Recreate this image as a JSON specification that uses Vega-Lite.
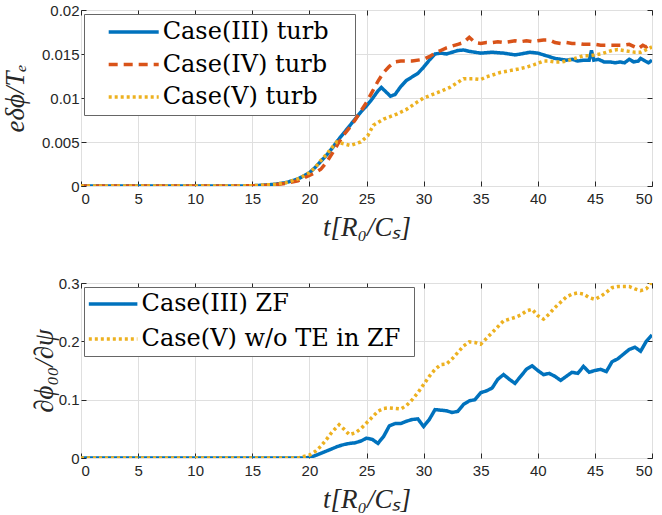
{
"$schema":"https://vega.github.io/schema/vega-lite/v6.json",
"padding":{"left":0,"top":2,"right":5,"bottom":5},
"background":"white",
"spacing":34,
"config":{
 "view":{"stroke":"#262626","strokeWidth":1},
 "axis":{"domain":false,"grid":true,"gridColor":"#DFDFDF","gridWidth":1,"tickColor":"#262626","tickSize":-5,"tickWidth":1,
  "labelFont":"Liberation Sans","labelFontSize":15,"labelColor":"#262626","labelPadding":10,
  "titleFont":"Liberation Serif","titleFontStyle":"italic","titleFontWeight":"normal","titleFontSize":27,"titleColor":"#262626"},
 "axisY":{"labelPadding":7},
 "legend":{"orient":"none","title":null,"labelFont":"DejaVu Serif","labelFontSize":24,"labelColor":"#000","labelLimit":500,"strokeColor":"#666","fillColor":"#ffffff","symbolType":"M-3,0H3"}
},
"resolve":{"scale":{"color":"independent","strokeDash":"independent","y":"independent"},"legend":{"color":"independent","strokeDash":"independent"}},
"vconcat":[
{
 "width":571,"height":176,
 "data":{"values":[
{"s":"Case(III) turb","t":0,"v":0},{"s":"Case(III) turb","t":5,"v":0},{"s":"Case(III) turb","t":10,"v":0},{"s":"Case(III) turb","t":14,"v":0.00001},{"s":"Case(III) turb","t":15,"v":0.00003},{"s":"Case(III) turb","t":16,"v":0.0001},{"s":"Case(III) turb","t":17,"v":0.0002},{"s":"Case(III) turb","t":18,"v":0.0004},{"s":"Case(III) turb","t":19,"v":0.0008},{"s":"Case(III) turb","t":20,"v":0.0015},{"s":"Case(III) turb","t":20.5,"v":0.0021},{"s":"Case(III) turb","t":21,"v":0.0028},{"s":"Case(III) turb","t":21.5,"v":0.0035},{"s":"Case(III) turb","t":22,"v":0.0043},{"s":"Case(III) turb","t":22.5,"v":0.0052},{"s":"Case(III) turb","t":23,"v":0.006},{"s":"Case(III) turb","t":23.5,"v":0.0068},{"s":"Case(III) turb","t":24,"v":0.0076},{"s":"Case(III) turb","t":24.5,"v":0.0084},{"s":"Case(III) turb","t":25,"v":0.0091},{"s":"Case(III) turb","t":25.5,"v":0.0099},{"s":"Case(III) turb","t":26,"v":0.0108},{"s":"Case(III) turb","t":26.3,"v":0.0112},{"s":"Case(III) turb","t":26.7,"v":0.0107},{"s":"Case(III) turb","t":27.1,"v":0.0102},{"s":"Case(III) turb","t":27.5,"v":0.0104},{"s":"Case(III) turb","t":28,"v":0.0113},{"s":"Case(III) turb","t":28.5,"v":0.012},{"s":"Case(III) turb","t":29,"v":0.0124},{"s":"Case(III) turb","t":29.5,"v":0.0128},{"s":"Case(III) turb","t":30,"v":0.0135},{"s":"Case(III) turb","t":30.5,"v":0.0143},{"s":"Case(III) turb","t":31,"v":0.015},{"s":"Case(III) turb","t":31.5,"v":0.0151},{"s":"Case(III) turb","t":32,"v":0.015},{"s":"Case(III) turb","t":32.5,"v":0.0152},{"s":"Case(III) turb","t":33,"v":0.0154},{"s":"Case(III) turb","t":33.5,"v":0.01545},{"s":"Case(III) turb","t":34,"v":0.0153},{"s":"Case(III) turb","t":34.5,"v":0.0152},{"s":"Case(III) turb","t":35,"v":0.0151},{"s":"Case(III) turb","t":36,"v":0.0152},{"s":"Case(III) turb","t":37,"v":0.0151},{"s":"Case(III) turb","t":38,"v":0.0149},{"s":"Case(III) turb","t":38.5,"v":0.015},{"s":"Case(III) turb","t":39.3,"v":0.0152},{"s":"Case(III) turb","t":40,"v":0.0151},{"s":"Case(III) turb","t":40.5,"v":0.0149},{"s":"Case(III) turb","t":41,"v":0.0147},{"s":"Case(III) turb","t":41.5,"v":0.0145},{"s":"Case(III) turb","t":42,"v":0.0144},{"s":"Case(III) turb","t":42.5,"v":0.0143},{"s":"Case(III) turb","t":43,"v":0.0144},{"s":"Case(III) turb","t":43.5,"v":0.0142},{"s":"Case(III) turb","t":44,"v":0.0143},{"s":"Case(III) turb","t":44.5,"v":0.0143},{"s":"Case(III) turb","t":44.7,"v":0.0154},{"s":"Case(III) turb","t":44.9,"v":0.0143},{"s":"Case(III) turb","t":45.3,"v":0.0144},{"s":"Case(III) turb","t":45.8,"v":0.0141},{"s":"Case(III) turb","t":46.3,"v":0.0141},{"s":"Case(III) turb","t":46.8,"v":0.014},{"s":"Case(III) turb","t":47.2,"v":0.0141},{"s":"Case(III) turb","t":47.6,"v":0.014},{"s":"Case(III) turb","t":48,"v":0.0144},{"s":"Case(III) turb","t":48.4,"v":0.0141},{"s":"Case(III) turb","t":48.8,"v":0.0142},{"s":"Case(III) turb","t":49,"v":0.0145},{"s":"Case(III) turb","t":49.4,"v":0.0142},{"s":"Case(III) turb","t":49.7,"v":0.014},{"s":"Case(III) turb","t":50,"v":0.0143},
{"s":"Case(IV) turb","t":0,"v":0},{"s":"Case(IV) turb","t":5,"v":0},{"s":"Case(IV) turb","t":10,"v":0},{"s":"Case(IV) turb","t":14,"v":0.00001},{"s":"Case(IV) turb","t":15,"v":0.00002},{"s":"Case(IV) turb","t":16,"v":0.00007},{"s":"Case(IV) turb","t":17,"v":0.00015},{"s":"Case(IV) turb","t":18,"v":0.0003},{"s":"Case(IV) turb","t":19,"v":0.0006},{"s":"Case(IV) turb","t":19.5,"v":0.0009},{"s":"Case(IV) turb","t":20,"v":0.0012},{"s":"Case(IV) turb","t":20.5,"v":0.0015},{"s":"Case(IV) turb","t":21,"v":0.0019},{"s":"Case(IV) turb","t":21.5,"v":0.0027},{"s":"Case(IV) turb","t":22,"v":0.0037},{"s":"Case(IV) turb","t":22.5,"v":0.0048},{"s":"Case(IV) turb","t":23,"v":0.0058},{"s":"Case(IV) turb","t":23.5,"v":0.0066},{"s":"Case(IV) turb","t":24,"v":0.0075},{"s":"Case(IV) turb","t":24.5,"v":0.0085},{"s":"Case(IV) turb","t":25,"v":0.0095},{"s":"Case(IV) turb","t":25.5,"v":0.0107},{"s":"Case(IV) turb","t":26,"v":0.0119},{"s":"Case(IV) turb","t":26.5,"v":0.0129},{"s":"Case(IV) turb","t":27,"v":0.0136},{"s":"Case(IV) turb","t":27.5,"v":0.0141},{"s":"Case(IV) turb","t":28,"v":0.0142},{"s":"Case(IV) turb","t":29,"v":0.0142},{"s":"Case(IV) turb","t":30,"v":0.0144},{"s":"Case(IV) turb","t":30.5,"v":0.0147},{"s":"Case(IV) turb","t":31,"v":0.0151},{"s":"Case(IV) turb","t":31.5,"v":0.0154},{"s":"Case(IV) turb","t":32,"v":0.0157},{"s":"Case(IV) turb","t":32.5,"v":0.0159},{"s":"Case(IV) turb","t":33,"v":0.0161},{"s":"Case(IV) turb","t":33.5,"v":0.0163},{"s":"Case(IV) turb","t":34,"v":0.0169},{"s":"Case(IV) turb","t":34.5,"v":0.0163},{"s":"Case(IV) turb","t":35,"v":0.0162},{"s":"Case(IV) turb","t":35.5,"v":0.0163},{"s":"Case(IV) turb","t":36,"v":0.0163},{"s":"Case(IV) turb","t":36.5,"v":0.0164},{"s":"Case(IV) turb","t":37,"v":0.0163},{"s":"Case(IV) turb","t":37.5,"v":0.0164},{"s":"Case(IV) turb","t":38,"v":0.0165},{"s":"Case(IV) turb","t":38.5,"v":0.0164},{"s":"Case(IV) turb","t":39,"v":0.0165},{"s":"Case(IV) turb","t":39.5,"v":0.0164},{"s":"Case(IV) turb","t":40,"v":0.0165},{"s":"Case(IV) turb","t":40.5,"v":0.0166},{"s":"Case(IV) turb","t":41,"v":0.0166},{"s":"Case(IV) turb","t":41.5,"v":0.0163},{"s":"Case(IV) turb","t":42,"v":0.0162},{"s":"Case(IV) turb","t":42.5,"v":0.0163},{"s":"Case(IV) turb","t":43,"v":0.0162},{"s":"Case(IV) turb","t":43.5,"v":0.0162},{"s":"Case(IV) turb","t":44,"v":0.0161},{"s":"Case(IV) turb","t":44.5,"v":0.0161},{"s":"Case(IV) turb","t":45,"v":0.0161},{"s":"Case(IV) turb","t":45.5,"v":0.016},{"s":"Case(IV) turb","t":46,"v":0.016},{"s":"Case(IV) turb","t":46.5,"v":0.016},{"s":"Case(IV) turb","t":47,"v":0.016},{"s":"Case(IV) turb","t":47.5,"v":0.016},{"s":"Case(IV) turb","t":48,"v":0.0161},{"s":"Case(IV) turb","t":48.5,"v":0.0158},{"s":"Case(IV) turb","t":48.8,"v":0.0156},{"s":"Case(IV) turb","t":49.2,"v":0.016},{"s":"Case(IV) turb","t":49.5,"v":0.0158},{"s":"Case(IV) turb","t":49.8,"v":0.0161},{"s":"Case(IV) turb","t":50,"v":0.0159},
{"s":"Case(V) turb","t":0,"v":0},{"s":"Case(V) turb","t":5,"v":0},{"s":"Case(V) turb","t":10,"v":0},{"s":"Case(V) turb","t":14,"v":0.00001},{"s":"Case(V) turb","t":15,"v":0.00003},{"s":"Case(V) turb","t":16,"v":0.0001},{"s":"Case(V) turb","t":17,"v":0.0002},{"s":"Case(V) turb","t":18,"v":0.0004},{"s":"Case(V) turb","t":19,"v":0.0008},{"s":"Case(V) turb","t":20,"v":0.0015},{"s":"Case(V) turb","t":20.5,"v":0.0021},{"s":"Case(V) turb","t":21,"v":0.0029},{"s":"Case(V) turb","t":21.5,"v":0.0036},{"s":"Case(V) turb","t":22,"v":0.0044},{"s":"Case(V) turb","t":22.4,"v":0.005},{"s":"Case(V) turb","t":23,"v":0.0048},{"s":"Case(V) turb","t":23.6,"v":0.0046},{"s":"Case(V) turb","t":24.5,"v":0.005},{"s":"Case(V) turb","t":25.1,"v":0.0057},{"s":"Case(V) turb","t":25.6,"v":0.0069},{"s":"Case(V) turb","t":26.5,"v":0.0076},{"s":"Case(V) turb","t":27.7,"v":0.0082},{"s":"Case(V) turb","t":28.5,"v":0.0087},{"s":"Case(V) turb","t":29.4,"v":0.0095},{"s":"Case(V) turb","t":30,"v":0.01},{"s":"Case(V) turb","t":31.2,"v":0.0106},{"s":"Case(V) turb","t":32.3,"v":0.0112},{"s":"Case(V) turb","t":33.5,"v":0.0122},{"s":"Case(V) turb","t":34.3,"v":0.0122},{"s":"Case(V) turb","t":35,"v":0.0121},{"s":"Case(V) turb","t":35.5,"v":0.0124},{"s":"Case(V) turb","t":36,"v":0.0126},{"s":"Case(V) turb","t":36.7,"v":0.0129},{"s":"Case(V) turb","t":37.5,"v":0.0131},{"s":"Case(V) turb","t":38.3,"v":0.0133},{"s":"Case(V) turb","t":39,"v":0.0135},{"s":"Case(V) turb","t":39.7,"v":0.0138},{"s":"Case(V) turb","t":40.5,"v":0.0142},{"s":"Case(V) turb","t":41,"v":0.0142},{"s":"Case(V) turb","t":41.5,"v":0.0141},{"s":"Case(V) turb","t":42,"v":0.0141},{"s":"Case(V) turb","t":42.5,"v":0.0142},{"s":"Case(V) turb","t":43,"v":0.0144},{"s":"Case(V) turb","t":43.5,"v":0.0146},{"s":"Case(V) turb","t":44,"v":0.0148},{"s":"Case(V) turb","t":44.5,"v":0.0148},{"s":"Case(V) turb","t":45,"v":0.0149},{"s":"Case(V) turb","t":45.5,"v":0.015},{"s":"Case(V) turb","t":46,"v":0.0152},{"s":"Case(V) turb","t":46.5,"v":0.0154},{"s":"Case(V) turb","t":47,"v":0.0155},{"s":"Case(V) turb","t":47.5,"v":0.0154},{"s":"Case(V) turb","t":48,"v":0.0153},{"s":"Case(V) turb","t":48.5,"v":0.0152},{"s":"Case(V) turb","t":49,"v":0.0152},{"s":"Case(V) turb","t":49.5,"v":0.0155},{"s":"Case(V) turb","t":50,"v":0.0158}
 ]},
 "resolve":{"axis":{"x":"independent","y":"independent"}},
 "layer":[
  {"mark":{"type":"line","strokeWidth":3.5,"strokeCap":"butt","clip":true},
   "encoding":{
    "x":{"field":"t","type":"quantitative","scale":{"domain":[0,50],"nice":false},"axis":{"values":[0,5,10,15,20,25,30,35,40,45,50],"title":"t[R₀/Cₛ]","titlePadding":8}},
    "y":{"field":"v","type":"quantitative","scale":{"domain":[0,0.02],"nice":false},"axis":{"values":[0,0.005,0.01,0.015,0.02],"format":"~g","title":"eδϕ/Tₑ","titlePadding":12}},
    "color":{"field":"s","type":"nominal","scale":{"domain":["Case(III) turb","Case(IV) turb","Case(V) turb"],"range":["#0072BD","#D95319","#EDB120"]},
      "legend":{"legendX":3,"legendY":4,"padding":6,"rowPadding":8.5,"symbolSize":278,"symbolStrokeWidth":3.5,"symbolOffset":31.7,"labelOffset":17,"labelFont":"DejaVu Serif","labelFontSize":24,"labelExpr":"datum.label + '\u00a0\u00a0\u2009\u200b'"}},
    "strokeDash":{"field":"s","type":"nominal","scale":{"domain":["Case(III) turb","Case(IV) turb","Case(V) turb"],"range":[[1,0],[9,6],[3,3]]},
      "legend":{"legendX":3,"legendY":4,"padding":6,"rowPadding":8.5,"symbolSize":278,"symbolStrokeWidth":3.5,"symbolOffset":31.7,"labelOffset":17,"labelFont":"DejaVu Serif","labelFontSize":24,"labelExpr":"datum.label + '\u00a0\u00a0\u2009\u200b'"}}
   }},
  {"mark":{"type":"line","opacity":0},
   "encoding":{
    "x":{"field":"t","type":"quantitative","axis":{"orient":"top","values":[0,5,10,15,20,25,30,35,40,45,50],"labels":false,"title":null,"grid":false}},
    "y":{"field":"v","type":"quantitative","axis":{"orient":"right","values":[0,0.005,0.01,0.015,0.02],"labels":false,"title":null,"grid":false}}
   }}
 ]
},
{
 "width":571,"height":175,
 "data":{"values":[
{"s":"Case(III) ZF","t":0,"v":0},{"s":"Case(III) ZF","t":5,"v":0},{"s":"Case(III) ZF","t":10,"v":0},{"s":"Case(III) ZF","t":15,"v":0},{"s":"Case(III) ZF","t":19.5,"v":0},{"s":"Case(III) ZF","t":20,"v":0.001},{"s":"Case(III) ZF","t":20.5,"v":0.004},{"s":"Case(III) ZF","t":21,"v":0.008},{"s":"Case(III) ZF","t":21.5,"v":0.012},{"s":"Case(III) ZF","t":22,"v":0.016},{"s":"Case(III) ZF","t":22.5,"v":0.02},{"s":"Case(III) ZF","t":23,"v":0.023},{"s":"Case(III) ZF","t":23.5,"v":0.025},{"s":"Case(III) ZF","t":24,"v":0.026},{"s":"Case(III) ZF","t":24.5,"v":0.029},{"s":"Case(III) ZF","t":25,"v":0.034},{"s":"Case(III) ZF","t":25.5,"v":0.032},{"s":"Case(III) ZF","t":26,"v":0.025},{"s":"Case(III) ZF","t":26.5,"v":0.037},{"s":"Case(III) ZF","t":27,"v":0.055},{"s":"Case(III) ZF","t":27.5,"v":0.059},{"s":"Case(III) ZF","t":28,"v":0.059},{"s":"Case(III) ZF","t":28.5,"v":0.063},{"s":"Case(III) ZF","t":29,"v":0.066},{"s":"Case(III) ZF","t":29.5,"v":0.067},{"s":"Case(III) ZF","t":30,"v":0.054},{"s":"Case(III) ZF","t":30.5,"v":0.066},{"s":"Case(III) ZF","t":31,"v":0.083},{"s":"Case(III) ZF","t":31.5,"v":0.082},{"s":"Case(III) ZF","t":32,"v":0.081},{"s":"Case(III) ZF","t":32.5,"v":0.078},{"s":"Case(III) ZF","t":33,"v":0.08},{"s":"Case(III) ZF","t":33.5,"v":0.092},{"s":"Case(III) ZF","t":34,"v":0.098},{"s":"Case(III) ZF","t":34.5,"v":0.1},{"s":"Case(III) ZF","t":35,"v":0.112},{"s":"Case(III) ZF","t":35.5,"v":0.115},{"s":"Case(III) ZF","t":36,"v":0.12},{"s":"Case(III) ZF","t":36.5,"v":0.135},{"s":"Case(III) ZF","t":37,"v":0.143},{"s":"Case(III) ZF","t":37.5,"v":0.135},{"s":"Case(III) ZF","t":38,"v":0.128},{"s":"Case(III) ZF","t":38.5,"v":0.14},{"s":"Case(III) ZF","t":39,"v":0.152},{"s":"Case(III) ZF","t":39.5,"v":0.158},{"s":"Case(III) ZF","t":40,"v":0.15},{"s":"Case(III) ZF","t":40.5,"v":0.143},{"s":"Case(III) ZF","t":41,"v":0.145},{"s":"Case(III) ZF","t":41.5,"v":0.14},{"s":"Case(III) ZF","t":42,"v":0.133},{"s":"Case(III) ZF","t":42.5,"v":0.14},{"s":"Case(III) ZF","t":43,"v":0.147},{"s":"Case(III) ZF","t":43.5,"v":0.145},{"s":"Case(III) ZF","t":44,"v":0.157},{"s":"Case(III) ZF","t":44.5,"v":0.147},{"s":"Case(III) ZF","t":45,"v":0.15},{"s":"Case(III) ZF","t":45.5,"v":0.152},{"s":"Case(III) ZF","t":46,"v":0.148},{"s":"Case(III) ZF","t":46.5,"v":0.165},{"s":"Case(III) ZF","t":47,"v":0.17},{"s":"Case(III) ZF","t":47.5,"v":0.178},{"s":"Case(III) ZF","t":48,"v":0.186},{"s":"Case(III) ZF","t":48.5,"v":0.19},{"s":"Case(III) ZF","t":49,"v":0.183},{"s":"Case(III) ZF","t":49.5,"v":0.2},{"s":"Case(III) ZF","t":50,"v":0.211},
{"s":"Case(V) w/o TE in ZF","t":0,"v":0},{"s":"Case(V) w/o TE in ZF","t":5,"v":0},{"s":"Case(V) w/o TE in ZF","t":10,"v":0},{"s":"Case(V) w/o TE in ZF","t":15,"v":0},{"s":"Case(V) w/o TE in ZF","t":19,"v":0},{"s":"Case(V) w/o TE in ZF","t":20,"v":0.005},{"s":"Case(V) w/o TE in ZF","t":20.5,"v":0.011},{"s":"Case(V) w/o TE in ZF","t":21,"v":0.02},{"s":"Case(V) w/o TE in ZF","t":21.5,"v":0.032},{"s":"Case(V) w/o TE in ZF","t":22,"v":0.045},{"s":"Case(V) w/o TE in ZF","t":22.6,"v":0.057},{"s":"Case(V) w/o TE in ZF","t":23,"v":0.05},{"s":"Case(V) w/o TE in ZF","t":23.5,"v":0.04},{"s":"Case(V) w/o TE in ZF","t":24,"v":0.043},{"s":"Case(V) w/o TE in ZF","t":24.5,"v":0.05},{"s":"Case(V) w/o TE in ZF","t":25,"v":0.06},{"s":"Case(V) w/o TE in ZF","t":25.5,"v":0.07},{"s":"Case(V) w/o TE in ZF","t":26,"v":0.08},{"s":"Case(V) w/o TE in ZF","t":26.5,"v":0.085},{"s":"Case(V) w/o TE in ZF","t":27,"v":0.086},{"s":"Case(V) w/o TE in ZF","t":27.5,"v":0.085},{"s":"Case(V) w/o TE in ZF","t":28,"v":0.084},{"s":"Case(V) w/o TE in ZF","t":28.5,"v":0.09},{"s":"Case(V) w/o TE in ZF","t":29,"v":0.1},{"s":"Case(V) w/o TE in ZF","t":29.5,"v":0.112},{"s":"Case(V) w/o TE in ZF","t":30,"v":0.126},{"s":"Case(V) w/o TE in ZF","t":30.5,"v":0.14},{"s":"Case(V) w/o TE in ZF","t":31,"v":0.152},{"s":"Case(V) w/o TE in ZF","t":31.5,"v":0.16},{"s":"Case(V) w/o TE in ZF","t":32,"v":0.161},{"s":"Case(V) w/o TE in ZF","t":32.5,"v":0.17},{"s":"Case(V) w/o TE in ZF","t":33,"v":0.181},{"s":"Case(V) w/o TE in ZF","t":33.5,"v":0.192},{"s":"Case(V) w/o TE in ZF","t":34,"v":0.199},{"s":"Case(V) w/o TE in ZF","t":34.5,"v":0.198},{"s":"Case(V) w/o TE in ZF","t":35,"v":0.195},{"s":"Case(V) w/o TE in ZF","t":35.5,"v":0.205},{"s":"Case(V) w/o TE in ZF","t":36,"v":0.215},{"s":"Case(V) w/o TE in ZF","t":36.5,"v":0.225},{"s":"Case(V) w/o TE in ZF","t":37,"v":0.235},{"s":"Case(V) w/o TE in ZF","t":37.5,"v":0.238},{"s":"Case(V) w/o TE in ZF","t":38,"v":0.241},{"s":"Case(V) w/o TE in ZF","t":38.5,"v":0.245},{"s":"Case(V) w/o TE in ZF","t":39,"v":0.252},{"s":"Case(V) w/o TE in ZF","t":39.5,"v":0.255},{"s":"Case(V) w/o TE in ZF","t":40,"v":0.244},{"s":"Case(V) w/o TE in ZF","t":40.5,"v":0.238},{"s":"Case(V) w/o TE in ZF","t":41,"v":0.247},{"s":"Case(V) w/o TE in ZF","t":41.5,"v":0.258},{"s":"Case(V) w/o TE in ZF","t":42,"v":0.267},{"s":"Case(V) w/o TE in ZF","t":42.5,"v":0.276},{"s":"Case(V) w/o TE in ZF","t":43,"v":0.281},{"s":"Case(V) w/o TE in ZF","t":43.5,"v":0.283},{"s":"Case(V) w/o TE in ZF","t":44,"v":0.281},{"s":"Case(V) w/o TE in ZF","t":44.5,"v":0.275},{"s":"Case(V) w/o TE in ZF","t":45,"v":0.272},{"s":"Case(V) w/o TE in ZF","t":45.5,"v":0.277},{"s":"Case(V) w/o TE in ZF","t":46,"v":0.284},{"s":"Case(V) w/o TE in ZF","t":46.5,"v":0.292},{"s":"Case(V) w/o TE in ZF","t":47,"v":0.294},{"s":"Case(V) w/o TE in ZF","t":47.5,"v":0.294},{"s":"Case(V) w/o TE in ZF","t":48,"v":0.294},{"s":"Case(V) w/o TE in ZF","t":48.5,"v":0.29},{"s":"Case(V) w/o TE in ZF","t":49,"v":0.287},{"s":"Case(V) w/o TE in ZF","t":49.5,"v":0.29},{"s":"Case(V) w/o TE in ZF","t":50,"v":0.302}
 ]},
 "resolve":{"axis":{"x":"independent","y":"independent"}},
 "layer":[
  {"mark":{"type":"line","strokeWidth":3.5,"strokeCap":"butt","clip":true},
   "encoding":{
    "x":{"field":"t","type":"quantitative","scale":{"domain":[0,50],"nice":false},"axis":{"values":[0,5,10,15,20,25,30,35,40,45,50],"title":"t[R₀/Cₛ]","titlePadding":8}},
    "y":{"field":"v","type":"quantitative","scale":{"domain":[0,0.3],"nice":false},"axis":{"values":[0,0.1,0.2,0.3],"format":"~g","title":"∂ϕ₀₀/∂ψ","titlePadding":0}},
    "color":{"field":"s","type":"nominal","scale":{"domain":["Case(III) ZF","Case(V) w/o TE in ZF"],"range":["#0072BD","#EDB120"]},
      "legend":{"legendX":3,"legendY":4,"padding":5,"rowPadding":11,"symbolSize":262,"symbolStrokeWidth":3.5,"symbolOffset":12.1,"labelOffset":16.5,"labelFont":"DejaVu Serif","labelFontSize":24,"labelExpr":"datum.label + '\u00a0\u200b'"}},
    "strokeDash":{"field":"s","type":"nominal","scale":{"domain":["Case(III) ZF","Case(V) w/o TE in ZF"],"range":[[1,0],[3,3]]},
      "legend":{"legendX":3,"legendY":4,"padding":5,"rowPadding":11,"symbolSize":262,"symbolStrokeWidth":3.5,"symbolOffset":12.1,"labelOffset":16.5,"labelFont":"DejaVu Serif","labelFontSize":24,"labelExpr":"datum.label + '\u00a0\u200b'"}}
   }},
  {"mark":{"type":"line","opacity":0},
   "encoding":{
    "x":{"field":"t","type":"quantitative","axis":{"orient":"top","values":[0,5,10,15,20,25,30,35,40,45,50],"labels":false,"title":null,"grid":false}},
    "y":{"field":"v","type":"quantitative","axis":{"orient":"right","values":[0,0.1,0.2,0.3],"labels":false,"title":null,"grid":false}}
   }}
 ]
}
]
}
